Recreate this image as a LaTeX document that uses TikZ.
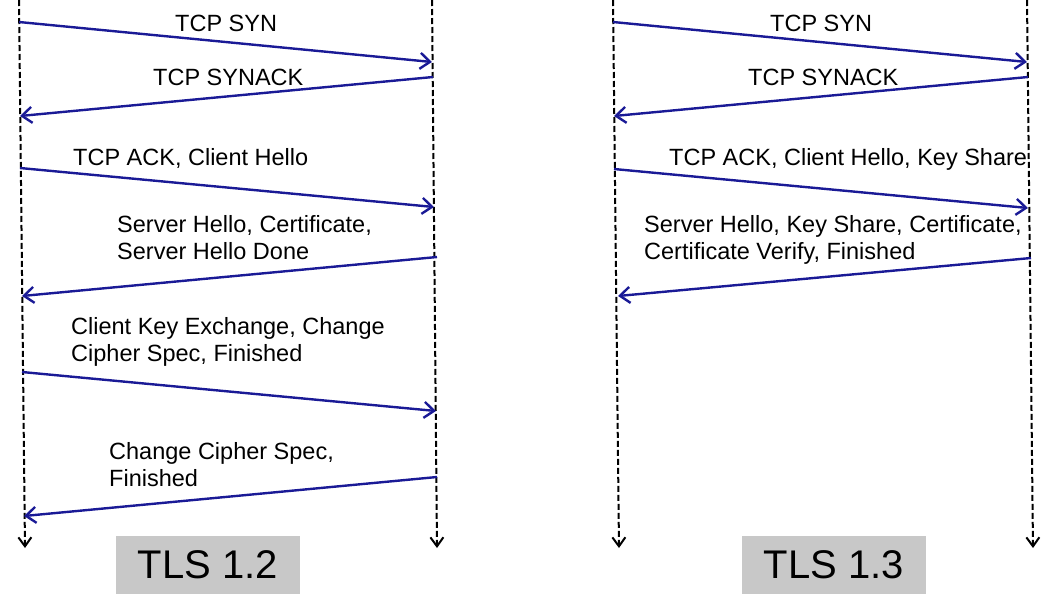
\documentclass[tikz,border=0pt]{standalone}
\usepackage{fontspec}
\setmainfont{Liberation Sans}
\usetikzlibrary{arrows.meta}
\definecolor{msgblue}{RGB}{26,26,150}
\definecolor{boxgray}{RGB}{200,200,200}
\begin{document}
\begin{tikzpicture}[x=1pt,y=-1pt,
  lifeline/.style={black,line width=2pt,dash pattern=on 6pt off 3pt,-{Straight Barb[length=9pt,width=13pt,line width=2pt]}},
  msg/.style={msgblue,line width=2.4pt,-{Straight Barb[length=10pt,width=16pt,line width=2.4pt]}},
  lbl/.style={inner sep=0pt,anchor=base west,align=left,font=\fontsize{23.5}{27}\selectfont},
  verbox/.style={fill=boxgray,minimum width=184pt,minimum height=58pt,inner sep=0pt,font=\fontsize{40}{44}\selectfont}]
\useasboundingbox (0,0) rectangle (1042,598);
% lifelines
\coordinate (A0) at (19,0);   \coordinate (A1) at (25,548);
\coordinate (B0) at (432,0);  \coordinate (B1) at (437,548);
\coordinate (C0) at (613,0);  \coordinate (C1) at (619,548);
\coordinate (D0) at (1027,0); \coordinate (D1) at (1033,548);
\draw[lifeline] (A0) -- (A1);
\draw[lifeline] (B0) -- (B1);
\draw[lifeline] (C0) -- (C1);
\draw[lifeline] (D0) -- (D1);
% TLS 1.2 messages
\coordinate (a1) at (19,22);  \coordinate (b1) at (432,62);
\coordinate (b2) at (433,77); \coordinate (a2) at (20,116);
\coordinate (a3) at (20,168); \coordinate (b3) at (434,207);
\coordinate (b4) at (437,257); \coordinate (a4) at (22,296);
\coordinate (a5) at (22,372); \coordinate (b5) at (436,411);
\coordinate (b6) at (437,477); \coordinate (a6) at (24,516);
\draw[msg] (a1) -- (b1);
\draw[msg] (b2) -- (a2);
\draw[msg] (a3) -- (b3);
\draw[msg] (b4) -- (a4);
\draw[msg] (a5) -- (b5);
\draw[msg] (b6) -- (a6);
\node[lbl] (l1) at (175,31) {TCP SYN};
\node[lbl] (l2) at (153,85) {TCP SYNACK};
\node[lbl] (l3) at (73,165) {TCP ACK, Client Hello};
\node[lbl] (l4) at (117,259) {Server Hello, Certificate,\\Server Hello Done};
\node[lbl] (l5) at (71,361) {Client Key Exchange, Change\\Cipher Spec, Finished};
\node[lbl] (l6) at (109,486) {Change Cipher Spec,\\Finished};
\node[verbox] (v12) at (208,565) {TLS 1.2};
% TLS 1.3 messages
\coordinate (c1) at (613,22);  \coordinate (d1) at (1027,62);
\coordinate (d2) at (1028,77); \coordinate (c2) at (614,116);
\coordinate (c3) at (614,169); \coordinate (d3) at (1028,208);
\coordinate (d4) at (1031,258); \coordinate (c4) at (618,296);
\draw[msg] (c1) -- (d1);
\draw[msg] (d2) -- (c2);
\draw[msg] (c3) -- (d3);
\draw[msg] (d4) -- (c4);
\node[lbl] (m1) at (770,31) {TCP SYN};
\node[lbl] (m2) at (748,85) {TCP SYNACK};
\node[lbl] (m3) at (669,165) {TCP ACK, Client Hello, Key Share};
\node[lbl] (m4) at (644,259) {Server Hello, Key Share, Certificate,\\Certificate Verify, Finished};
\node[verbox] (v13) at (834,565) {TLS 1.3};
\end{tikzpicture}
\end{document}
